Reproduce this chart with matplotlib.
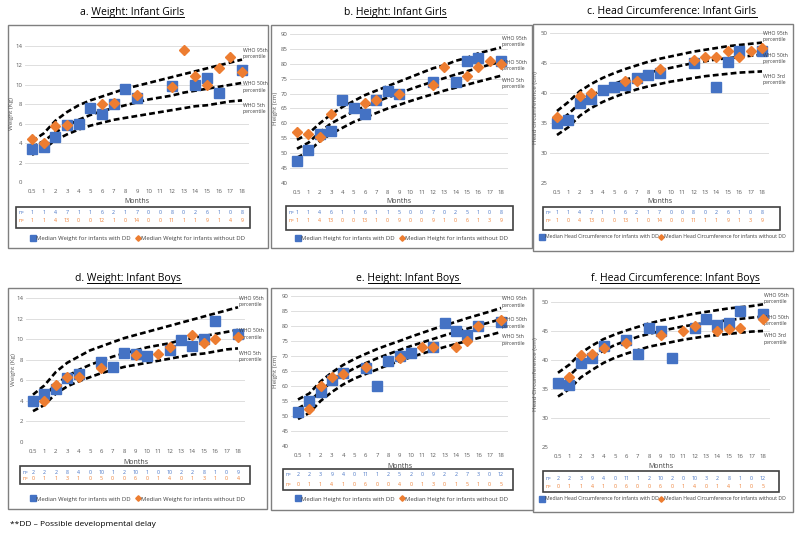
import numpy as np
import matplotlib
matplotlib.use("Agg")
import matplotlib.pyplot as plt
from matplotlib.patches import Rectangle
from matplotlib.lines import Line2D

W, H = 800, 537
nan = np.nan
BLUE = '#4472C4'
ORANGE = '#ED7D31'
GREY = '#595959'

months = ['0.5', '1', '2', '3', '4', '5', '6', '7', '8', '9', '10', '11', '12',
          '13', '14', '15', '16', '17', '18']

# ---- a. weight, girls
g_wt_dd = [3.4, 3.6, 4.6, 5.9, 6.0, 7.6, 7.0, 8.0, 9.6, 8.6, nan, nan, 9.9, nan, 10.0, 10.7, 9.2, nan, 11.5]
g_wt_nodd = [4.4, 4.0, 5.8, 5.9, nan, nan, 8.0, 8.1, nan, 9.0, nan, nan, 9.8, 13.6, 10.9, 10.0, 11.7, 12.9, 11.3]
g_wt_n_dd = [1, 1, 4, 7, 1, 1, 6, 2, 1, 7, 0, 0, 8, 0, 2, 6, 1, 0, 8]
g_wt_n_nodd = [1, 1, 4, 13, 0, 0, 12, 1, 0, 14, 0, 0, 11, 1, 1, 9, 1, 4, 9]
g_wt_p95 = [4.2, 5.0, 6.3, 7.2, 7.9, 8.4, 8.8, 9.2, 9.6, 9.9, 10.2, 10.5, 10.8, 11.1, 11.4, 11.7, 12.0, 12.3, 12.6]
g_wt_p50 = [3.6, 4.2, 5.1, 5.8, 6.4, 6.9, 7.3, 7.6, 7.9, 8.2, 8.5, 8.7, 8.9, 9.2, 9.4, 9.6, 9.8, 10.0, 10.2]
g_wt_p5 = [2.8, 3.4, 4.3, 4.9, 5.4, 5.8, 6.1, 6.4, 6.6, 6.8, 7.0, 7.2, 7.4, 7.6, 7.8, 7.9, 8.1, 8.3, 8.4]

# ---- b. height, girls
g_ht_dd = [47.5, 51, 56.5, 57.5, 68, 65, 63, 68, 71, 70, nan, nan, 74, nan, 74, 81, 82, nan, 81]
g_ht_nodd = [57, 56.5, 55.5, 63, nan, nan, 67, 68, nan, 70, nan, nan, 73, 79, nan, 76, 79, 81, 80]
g_ht_n_dd = [1, 1, 4, 6, 1, 1, 6, 1, 1, 5, 0, 0, 7, 0, 2, 5, 1, 0, 8]
g_ht_n_nodd = [1, 1, 4, 13, 0, 0, 13, 1, 0, 9, 0, 0, 9, 1, 0, 6, 1, 3, 9]
g_ht_p95 = [54.5, 56.5, 60, 63, 65.5, 67.5, 69.5, 71, 72.5, 74, 75.5, 77, 78.5, 79.5, 81, 82, 83.5, 84.5, 85.5]
g_ht_p50 = [51.5, 53.5, 57, 60, 62, 64, 65.7, 67.3, 68.7, 70, 71.5, 72.8, 74, 75.2, 76.4, 77.5, 78.6, 79.7, 80.7]
g_ht_p5 = [48.5, 50.5, 54, 56.5, 58.5, 60.5, 62, 63.5, 65, 66.2, 67.5, 68.7, 69.8, 71, 72, 73, 74, 75, 76]

# ---- c. head circumference, girls
g_hc_dd = [35, 35.5, 38.3, 39, 40.5, 41, 41.3, 42.5, 43, 43.3, nan, nan, 45, nan, 41, 45.2, 47, nan, 47]
g_hc_nodd = [36, nan, 39.5, 40, nan, nan, 42, 42, nan, 44, nan, nan, 45.5, 46, 46, 47, 46, 47, 47.5]
g_hc_n_dd = [1, 1, 4, 7, 1, 1, 6, 2, 1, 7, 0, 0, 8, 0, 2, 6, 1, 0, 8]
g_hc_n_nodd = [1, 0, 4, 13, 0, 0, 13, 1, 0, 14, 0, 0, 11, 1, 1, 9, 1, 3, 9]
g_hc_p95 = [37, 38.5, 40.3, 41.5, 42.5, 43.3, 44, 44.6, 45.2, 45.7, 46.1, 46.5, 46.9, 47.2, 47.5, 47.8, 48, 48.2, 48.4]
g_hc_p50 = [35, 36.5, 38.3, 39.5, 40.6, 41.5, 42.2, 42.8, 43.4, 43.8, 44.2, 44.6, 45, 45.3, 45.6, 45.8, 46, 46.2, 46.4]
g_hc_p3 = [33, 34.3, 36.2, 37.5, 38.5, 39.3, 40, 40.6, 41.1, 41.5, 41.9, 42.2, 42.5, 42.8, 43, 43.2, 43.4, 43.5, 43.6]

# ---- d. weight, boys
b_wt_dd = [4.0, 4.7, 5.2, 6.2, 6.6, nan, 7.8, 7.3, 8.7, 8.6, 8.4, nan, 8.9, 9.9, 9.3, 10.0, 11.8, nan, 10.5]
b_wt_nodd = [nan, 4.0, 5.5, 6.3, 6.3, nan, 7.2, nan, nan, 8.5, nan, 8.6, 9.2, nan, 10.4, 9.6, 10.0, nan, 10.2]
b_wt_n_dd = [2, 2, 2, 8, 4, 0, 10, 1, 2, 10, 1, 0, 10, 2, 2, 8, 1, 0, 9]
b_wt_n_nodd = [0, 1, 1, 3, 1, 0, 5, 0, 0, 6, 0, 1, 4, 0, 1, 3, 1, 0, 4]
b_wt_p95 = [4.6, 5.5, 6.8, 7.7, 8.3, 8.9, 9.3, 9.7, 10.1, 10.4, 10.7, 11.0, 11.3, 11.6, 11.9, 12.2, 12.5, 12.8, 13.1]
b_wt_p50 = [3.9, 4.5, 5.6, 6.4, 7.0, 7.5, 7.9, 8.3, 8.6, 8.9, 9.2, 9.4, 9.6, 9.9, 10.1, 10.3, 10.5, 10.7, 10.9]
b_wt_p5 = [3.0, 3.6, 4.7, 5.4, 5.9, 6.3, 6.7, 7.0, 7.3, 7.5, 7.7, 7.9, 8.1, 8.3, 8.5, 8.6, 8.8, 9.0, 9.1]

# ---- e. height, boys
b_ht_dd = [51.5, 55, 58, 62, 64.5, nan, 66, 60, 68.5, 70, 71, nan, 73, 81, 78.5, 77, 80, nan, 81.5]
b_ht_nodd = [nan, 52.5, 60, 63, 64, nan, 66.5, nan, nan, 69.5, nan, 73, 73, nan, 73, 75, 80, nan, 82]
b_ht_n_dd = [2, 2, 3, 9, 4, 0, 11, 1, 2, 5, 2, 0, 9, 2, 2, 7, 3, 0, 12]
b_ht_n_nodd = [0, 1, 1, 4, 1, 0, 6, 0, 0, 4, 0, 1, 3, 0, 1, 5, 1, 0, 5]
b_ht_p95 = [55.5, 57.5, 61.5, 64.5, 67, 69, 70.7, 72.3, 73.7, 75, 76.4, 77.7, 79, 80.2, 81.4, 82.6, 83.7, 84.8, 86]
b_ht_p50 = [52.5, 54.7, 58.4, 61.4, 63.9, 65.9, 67.6, 69.2, 70.6, 72, 73.3, 74.5, 75.7, 76.9, 78, 79.1, 80.2, 81.2, 82.3]
b_ht_p5 = [49, 51, 55, 58, 60.5, 62.5, 64, 65.5, 67, 68.3, 69.6, 70.8, 71.9, 73, 74, 75, 76, 77, 78]

# ---- f. head circumference, boys
b_hc_dd = [36, 35.7, 39.5, 40.3, 42.5, nan, 43.5, 41, 45.5, 45, 40.3, nan, 45.5, 47, 46, 46.3, 48.5, nan, 48]
b_hc_nodd = [nan, 37, 40.8, 41, 42, nan, 43, nan, nan, 44.3, nan, 45, 45.8, nan, 45, 45.3, 45.5, nan, 47]
b_hc_n_dd = [2, 2, 3, 9, 4, 0, 11, 1, 2, 10, 2, 0, 10, 3, 2, 8, 1, 0, 12]
b_hc_n_nodd = [0, 1, 1, 4, 1, 0, 6, 0, 0, 6, 0, 1, 4, 0, 1, 4, 1, 0, 5]
b_hc_p95 = [37.8, 39.2, 41.2, 42.5, 43.6, 44.4, 45.1, 45.7, 46.3, 46.8, 47.2, 47.6, 48, 48.3, 48.6, 48.9, 49.1, 49.3, 49.6]
b_hc_p50 = [35.8, 37.3, 39.2, 40.5, 41.6, 42.6, 43.3, 44, 44.5, 45, 45.4, 45.8, 46.1, 46.4, 46.6, 46.9, 47.1, 47.3, 47.5]
b_hc_p3 = [33.7, 35, 37, 38.3, 39.5, 40.4, 41.1, 41.7, 42.3, 42.7, 43.1, 43.5, 43.8, 44.1, 44.3, 44.5, 44.7, 44.9, 45]

plt.rcParams['font.family'] = ['Open Sans', 'DejaVu Sans']

fig = plt.figure(figsize=(W / 100, H / 100), dpi=100)
fig.patch.set_facecolor('white')


def fx(px):
    return px / W


def fy(py):
    return 1 - py / H


def panel(g, prefix, title, ylabel, what, ylo, yhi, ystep, dd, nodd, n_dd, n_nodd, curves, low_name):
    # panel frame
    x0, y0, x1, y1 = g['box']
    fig.patches.append(Rectangle((fx(x0), fy(y1)), fx(x1 - x0), (y1 - y0) / H,
                                 transform=fig.transFigure, fill=False,
                                 edgecolor='#7f7f7f', lw=1.0))
    # title with underline
    t = fig.text(fx(g['title'][0]), fy(g['title'][1]), prefix + title, ha='center',
                 va='center', fontsize=7.5, color='black')
    r = fig.canvas.get_renderer()
    bb = t.get_window_extent(r)
    tmp = fig.text(0, 0, prefix, fontsize=7.5)
    pw = tmp.get_window_extent(r).width
    tmp.remove()
    fig.lines.append(Line2D([(bb.x0 + pw) / W, bb.x1 / W], [(bb.y0 + 1) / H, (bb.y0 + 1) / H],
                            transform=fig.transFigure, color='black', lw=0.7))

    xa, xb = g['xcat']
    ytop, ybot = g['ypx']
    ppi = (xb - xa) / 18.0
    left = xa - 0.6 * ppi
    right = xb + 0.6 * ppi
    ax = fig.add_axes([fx(left), fy(ybot), fx(right - left), (ybot - ytop) / H])
    ax.set_xlim(-0.6, 18.6)
    ax.set_ylim(ylo, yhi)
    ax.set_yticks(np.arange(ylo, yhi + 0.1, ystep))
    ax.set_xticks(range(len(months)))
    ax.set_xticklabels(months)
    ax.tick_params(length=0, labelsize=4.3, labelcolor=GREY)
    ax.tick_params(axis='y', pad=2)
    ax.tick_params(axis='x', pad=5)
    for s in ax.spines.values():
        s.set_visible(False)
    ax.grid(axis='y', color='#d9d9d9', lw=0.6)
    ax.set_axisbelow(True)

    x = np.arange(len(months))
    for c in curves:
        ax.plot(x, c, color='black', lw=1.9, ls=(0, (2.2, 1.2)), zorder=2)
    ax.plot(x, np.array(dd, float), ls='none', marker='s', ms=6.5, color=BLUE, zorder=3,
            clip_on=False)
    ax.plot(x, np.array(nodd, float), ls='none', marker='D', ms=5, color=ORANGE, zorder=4,
            clip_on=False)

    names = ['WHO 95th\npercentile', 'WHO 50th\npercentile', 'WHO ' + low_name + '\npercentile']
    offs = [6, -4, -8]
    for c, nm, o in zip(curves, names, offs):
        ax.annotate(nm, (18, c[-1]), xytext=(1, o), textcoords='offset pixels',
                    ha='left', va='center', fontsize=3.7,
                    color='#404040', linespacing=1.35, annotation_clip=False)

    fig.text(fx(g['ylab']), fy((ytop + ybot) / 2), ylabel, rotation=90, ha='center',
             va='center', fontsize=4.5, color=GREY)
    fig.text(fx((xa + xb) / 2), fy(g['months']), 'Months', ha='center', va='center',
             fontsize=5, color='#404040')

    # n table
    tx0, ty0, tx1, ty1 = g['table']
    fig.patches.append(Rectangle((fx(tx0), fy(ty1)), fx(tx1 - tx0), (ty1 - ty0) / H,
                                 transform=fig.transFigure, fill=False,
                                 edgecolor='#404040', lw=1.2))
    for row, col, yy in zip([n_dd, n_nodd], [BLUE, ORANGE], g['rows']):
        fig.text(fx(tx0 + 3), fy(yy), 'n=', ha='left', va='center', fontsize=3.6, color=col)
        for i, v in enumerate(row):
            fig.text(fx(xa + i * ppi), fy(yy), str(v), ha='center', va='center',
                     fontsize=3.8, color=col)

    head = 'Head' in what
    h1 = Line2D([], [], ls='none', marker='s', ms=4, color=BLUE)
    h2 = Line2D([], [], ls='none', marker='D', ms=2.8, color=ORANGE)
    fig.legend([h1, h2], ['Median ' + what + ' for infants with DD',
                          'Median ' + what + ' for infants without DD'],
               loc='center', bbox_to_anchor=(fx((x0 + x1) / 2), fy(g['legend'])),
               ncol=2, frameon=False, fontsize=3.7 if head else 4.2,
               handletextpad=0.05 if head else 0.1,
               columnspacing=0.05 if head else 0.8, handlelength=0.9,
               borderpad=0, labelcolor='#404040')
    return ax


geo = {
    'a': dict(box=(8, 25, 268, 248), title=(132, 12), xcat=(32, 242), ypx=(46, 182),
              ylab=12, months=202, table=(16, 207, 250, 228), rows=(212, 220), legend=238),
    'b': dict(box=(271, 25, 532, 248), title=(395, 12), xcat=(297, 501), ypx=(34, 183),
              ylab=276, months=202, table=(286, 206, 513, 230), rows=(212, 221), legend=238),
    'c': dict(box=(533, 24, 793, 251), title=(672, 12), xcat=(557, 762), ypx=(33, 183),
              ylab=536, months=202, table=(543, 207, 780, 230), rows=(212, 221), legend=237),
    'd': dict(box=(8, 288, 267, 509), title=(128, 278), xcat=(33, 238), ypx=(298, 442),
              ylab=13, months=462, table=(20, 466, 250, 484), rows=(472, 479), legend=499),
    'e': dict(box=(271, 288, 533, 510), title=(408, 278), xcat=(298, 501), ypx=(296, 446),
              ylab=276, months=466, table=(283, 469, 513, 490), rows=(475, 484), legend=499),
    'f': dict(box=(533, 288, 793, 512), title=(675, 278), xcat=(558, 763), ypx=(302, 447),
              ylab=536, months=467, table=(543, 471, 779, 492), rows=(478, 487), legend=499),
}

panel(geo['a'], 'a. ', 'Weight: Infant Girls', 'Weight (Kg)', 'Weight', 0, 14, 2,
      g_wt_dd, g_wt_nodd, g_wt_n_dd, g_wt_n_nodd, [g_wt_p95, g_wt_p50, g_wt_p5], '5th')
panel(geo['b'], 'b. ', 'Height: Infant Girls', 'Height (cm)', 'Height', 40, 90, 5,
      g_ht_dd, g_ht_nodd, g_ht_n_dd, g_ht_n_nodd, [g_ht_p95, g_ht_p50, g_ht_p5], '5th')
panel(geo['c'], 'c. ', 'Head Circumference: Infant Girls', 'Head circumference (cm)',
      'Head Circumference', 25, 50, 5,
      g_hc_dd, g_hc_nodd, g_hc_n_dd, g_hc_n_nodd, [g_hc_p95, g_hc_p50, g_hc_p3], '3rd')
panel(geo['d'], 'd. ', 'Weight: Infant Boys', 'Weight (Kg)', 'Weight', 0, 14, 2,
      b_wt_dd, b_wt_nodd, b_wt_n_dd, b_wt_n_nodd, [b_wt_p95, b_wt_p50, b_wt_p5], '5th')
panel(geo['e'], 'e. ', 'Height: Infant Boys', 'Height (cm)', 'Height', 40, 90, 5,
      b_ht_dd, b_ht_nodd, b_ht_n_dd, b_ht_n_nodd, [b_ht_p95, b_ht_p50, b_ht_p5], '5th')
panel(geo['f'], 'f. ', 'Head Circumference: Infant Boys', 'Head Circumference (cm)',
      'Head Circumference', 25, 50, 5,
      b_hc_dd, b_hc_nodd, b_hc_n_dd, b_hc_n_nodd, [b_hc_p95, b_hc_p50, b_hc_p3], '3rd')

fig.text(fx(10), fy(524), '**DD \u2013 Possible developmental delay', ha='left', va='center',
         fontsize=6, color='black')

fig.savefig('out.png', dpi=100, facecolor='white')
